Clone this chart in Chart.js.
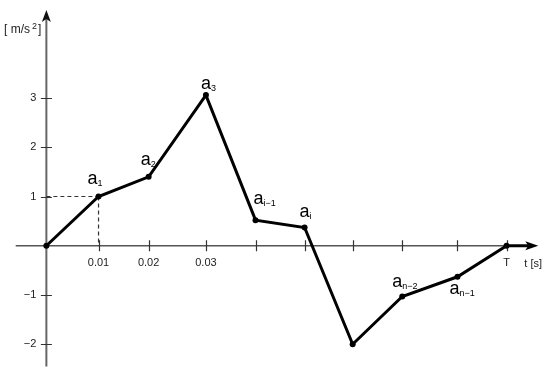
<!DOCTYPE html>
<html>
<head>
<meta charset="utf-8">
<script src="https://cdn.jsdelivr.net/npm/chart.js@4"></script>
<style>
  html, body { margin: 0; padding: 0; background: #fff; }
  canvas { display: block; }
</style>
</head>
<body>
<canvas id="accChart" width="550" height="377"></canvas>
<script>
// valores
const times = [0, 0.0102, 0.0200, 0.0312, 0.0409, 0.0505, 0.0599, 0.0696, 0.0804, 0.09];
const accel = [0, 1, 1.40, 3.06, 0.52, 0.37, -2.0, -1.03, -0.63, 0];
const pointNames = ['', '1', '2', '3', 'i\u22121', 'i', '', 'n\u22122', 'n\u22121', ''];

const xTickValues = times.slice(1);
const xTickLabels = ['0.01', '0.02', '0.03', '', '', '', '', '', 'T'];
const yTickValues = [-2, -1, 1, 2, 3];
const yTickLabels = ['\u22122', '\u22121', '1', '2', '3'];

// desplazamiento de las etiquetas a_k respecto al punto (px)
const labelOffsets = [null, [-6, -18], [-3, -17], [0, -11], [3, -21], [0, -16], null, [-5, -14], [-3, 12], null];

const axisPlugin = {
  id: 'axisPlugin',
  beforeDatasetsDraw(chart) {
    const c = chart.ctx;
    const xs = chart.scales.x, ys = chart.scales.y;
    const x0 = xs.getPixelForValue(0), y0 = ys.getPixelForValue(0);
    c.save();

    // eje y
    const yTop = ys.getPixelForValue(4.79);
    c.strokeStyle = '#666';
    c.lineWidth = 2;
    c.beginPath();
    c.moveTo(x0, ys.getPixelForValue(-2.45));
    c.lineTo(x0, yTop + 8);
    c.stroke();
    c.fillStyle = '#111';
    c.beginPath();
    c.moveTo(x0, yTop);
    c.lineTo(x0 - 4.5, yTop + 12);
    c.lineTo(x0, yTop + 9);
    c.lineTo(x0 + 4.5, yTop + 12);
    c.closePath();
    c.fill();

    // eje x
    const xEnd = xs.getPixelForValue(0.0962);
    c.strokeStyle = '#555';
    c.lineWidth = 1.5;
    c.beginPath();
    c.moveTo(xs.getPixelForValue(-0.006), y0);
    c.lineTo(xEnd - 12, y0);
    c.stroke();
    c.strokeStyle = '#000';
    c.lineWidth = 3;
    c.beginPath();
    c.moveTo(xs.getPixelForValue(0.09), y0);
    c.lineTo(xEnd - 10, y0);
    c.stroke();
    c.fillStyle = '#000';
    c.beginPath();
    c.moveTo(xEnd, y0);
    c.lineTo(xEnd - 13, y0 - 4.5);
    c.lineTo(xEnd - 10, y0);
    c.lineTo(xEnd - 13, y0 + 4.5);
    c.closePath();
    c.fill();

    // marcas
    c.strokeStyle = '#333';
    c.lineWidth = 1.2;
    c.beginPath();
    xTickValues.forEach(v => {
      const px = Math.round(xs.getPixelForValue(v)) + 0.5;
      c.moveTo(px, y0 - 5.5);
      c.lineTo(px, y0 + 5.5);
    });
    yTickValues.forEach(v => {
      const py = Math.round(ys.getPixelForValue(v)) + 0.5;
      c.moveTo(x0 - 5.5, py);
      c.lineTo(x0 + 5.5, py);
    });
    c.stroke();

    // lineas punteadas hacia a1
    const ax = xs.getPixelForValue(times[1]), ay = ys.getPixelForValue(accel[1]);
    c.setLineDash([4, 3]);
    c.beginPath();
    c.moveTo(x0, ay);
    c.lineTo(ax, ay);
    c.moveTo(ax, ay);
    c.lineTo(ax, y0);
    c.stroke();
    c.setLineDash([]);

    // textos de los ejes
    c.fillStyle = '#222';
    c.font = '11px "Liberation Sans", sans-serif';
    c.textAlign = 'center';
    c.textBaseline = 'middle';
    xTickValues.forEach((v, i) => {
      if (xTickLabels[i]) c.fillText(xTickLabels[i], xs.getPixelForValue(v), y0 + 17);
    });
    c.textAlign = 'right';
    yTickValues.forEach((v, i) => {
      c.fillText(yTickLabels[i], x0 - 10, ys.getPixelForValue(v));
    });
    c.textAlign = 'left';
    c.fillText('t [s]', xEnd - 14, y0 + 18);

    // unidad del eje y
    let ux = 4;
    const uy = yTop + 20;
    c.font = '12px "Liberation Sans", sans-serif';
    c.fillText('[ m/s', ux, uy);
    ux += c.measureText('[ m/s').width + 2;
    c.font = '9px "Liberation Sans", sans-serif';
    c.fillText('2', ux, uy - 3);
    ux += c.measureText('2').width + 1;
    c.font = '12px "Liberation Sans", sans-serif';
    c.fillText(']', ux, uy);
    c.restore();
  },
  afterDatasetsDraw(chart) {
    const c = chart.ctx;
    const xs = chart.scales.x, ys = chart.scales.y;
    c.save();
    c.fillStyle = '#000';
    c.textBaseline = 'alphabetic';
    times.forEach((t, i) => {
      const off = labelOffsets[i];
      if (!off) return;
      const cx = xs.getPixelForValue(t) + off[0];
      const cy = ys.getPixelForValue(accel[i]) + off[1];
      c.font = '18px "Liberation Sans", sans-serif';
      const w = c.measureText('a').width;
      c.textAlign = 'center';
      c.fillText('a', cx, cy + 5);
      c.textAlign = 'left';
      c.font = '9px "Liberation Sans", sans-serif';
      c.fillText(pointNames[i], cx + w / 2, cy + 7);
    });
    c.restore();
  }
};

new Chart(document.getElementById('accChart'), {
  type: 'line',
  data: {
    datasets: [{
      data: times.map((t, i) => ({ x: t, y: accel[i] })),
      borderColor: '#000',
      borderWidth: 3,
      backgroundColor: '#000',
      pointBackgroundColor: '#000',
      pointBorderWidth: 0,
      pointRadius: 3,
      tension: 0,
      clip: false
    }]
  },
  options: {
    responsive: false,
    animation: false,
    layout: { padding: 0 },
    plugins: { legend: { display: false }, tooltip: { enabled: false } },
    scales: {
      x: { type: 'linear', display: false, min: -0.008287, max: 0.09771 },
      y: { type: 'linear', display: false, min: -2.5845, max: 4.9105 }
    }
  },
  plugins: [axisPlugin]
});
</script>
</body>
</html>
